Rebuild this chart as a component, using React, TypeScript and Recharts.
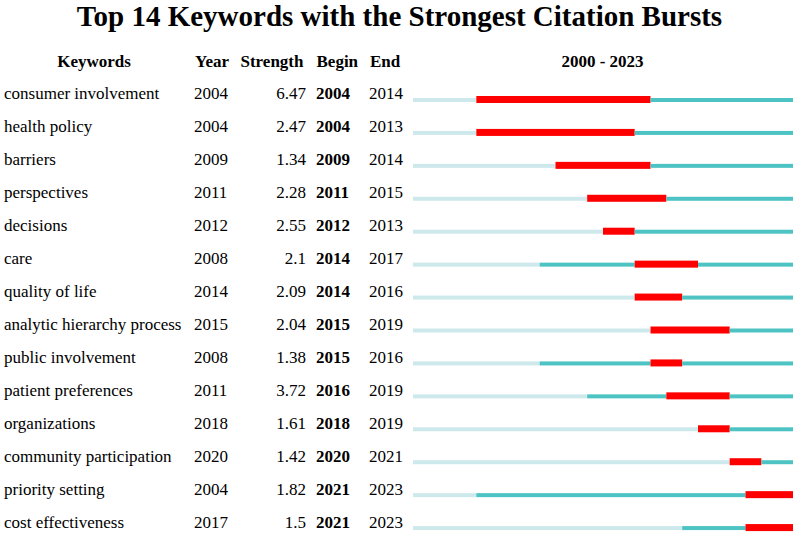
import { BarChart, Bar, XAxis, YAxis, Customized } from 'recharts';

const keywords = [
  'consumer involvement', 'health policy', 'barriers', 'perspectives', 'decisions', 'care',
  'quality of life', 'analytic hierarchy process', 'public involvement', 'patient preferences',
  'organizations', 'community participation', 'priority setting', 'cost effectiveness',
];
const years = [2004, 2004, 2009, 2011, 2012, 2008, 2014, 2015, 2008, 2011, 2018, 2020, 2004, 2017];
const strengths = [6.47, 2.47, 1.34, 2.28, 2.55, 2.1, 2.09, 2.04, 1.38, 3.72, 1.61, 1.42, 1.82, 1.5];
const begins = [2004, 2004, 2009, 2011, 2012, 2014, 2014, 2015, 2015, 2016, 2018, 2020, 2021, 2021];
const ends = [2014, 2013, 2014, 2015, 2013, 2017, 2016, 2019, 2016, 2019, 2019, 2021, 2023, 2023];

const START = 2000;
const LAST = 2023;

const LIGHT = '#cde9ec';
const TEAL = '#4dc4c3';
const RED = '#ff0000';
const FONT = '"Liberation Serif", "Times New Roman", serif';

// segments measured in years from 2000
const data = keywords.map((k, i) => ({
  keyword: k,
  before: years[i] - START,
  active: begins[i] - years[i],
  burst: ends[i] + 1 - begins[i],
  after: LAST - ends[i],
}));

const ThinBar = (props: any) => {
  const { x, y, width, height, fill } = props;
  if (!width || width <= 0) return null;
  return <rect x={x} y={y + 2} width={width} height={height - 3} fill={fill} />;
};

const BurstBar = (props: any) => {
  const { x, y, width, height, fill } = props;
  if (!width || width <= 0) return null;
  return <rect x={x} y={y} width={width} height={height} fill={fill} />;
};

const RowTick = (props: any) => {
  const { y, payload } = props;
  const i = keywords.indexOf(payload.value);
  if (i < 0) return null;
  return (
    <g fontFamily={FONT} fontSize={17} fill="#000">
      <text x={4} y={y} fill="#000">{keywords[i]}</text>
      <text x={194} y={y} fill="#000">{years[i]}</text>
      <text x={306} y={y} textAnchor="end" fill="#000">{strengths[i]}</text>
      <text x={316} y={y} fontWeight="bold" fill="#000">{begins[i]}</text>
      <text x={369} y={y} fill="#000">{ends[i]}</text>
    </g>
  );
};

const Headers = () => (
  <g fontFamily={FONT} fill="#000">
    <text x={399.5} y={26} textAnchor="middle" fontSize={29} fontWeight="bold">
      Top 14 Keywords with the Strongest Citation Bursts
    </text>
    <g fontSize={17} fontWeight="bold">
      <text x={94} y={66.5} textAnchor="middle">Keywords</text>
      <text x={195} y={66.5}>Year</text>
      <text x={240.5} y={66.5}>Strength</text>
      <text x={316.5} y={66.5}>Begin</text>
      <text x={370} y={66.5}>End</text>
      <text x={602.5} y={66.5} textAnchor="middle">{START} - {LAST}</text>
    </g>
  </g>
);

export default function App() {
  return (
    <div style={{ position: 'absolute', left: 0, top: 0, background: '#fff' }}>
      <BarChart
        width={797}
        height={534}
        data={data}
        layout="vertical"
        margin={{ top: 83, right: 4, left: 0, bottom: -10 }}
      >
        <XAxis type="number" domain={[0, LAST - START + 1]} hide />
        <YAxis
          type="category"
          dataKey="keyword"
          width={413}
          interval={0}
          axisLine={false}
          tickLine={false}
          tick={<RowTick />}
        />
        <Bar dataKey="before" stackId="a" fill={LIGHT} barSize={7} shape={<ThinBar />} isAnimationActive={false} />
        <Bar dataKey="active" stackId="a" fill={TEAL} barSize={7} shape={<ThinBar />} isAnimationActive={false} />
        <Bar dataKey="burst" stackId="a" fill={RED} barSize={7} shape={<BurstBar />} isAnimationActive={false} />
        <Bar dataKey="after" stackId="a" fill={TEAL} barSize={7} shape={<ThinBar />} isAnimationActive={false} />
        <Customized component={Headers} />
      </BarChart>
    </div>
  );
}
